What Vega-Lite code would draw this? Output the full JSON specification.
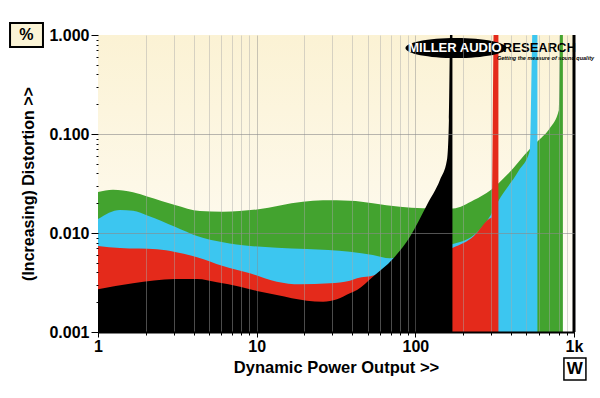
{
  "$schema": "https://vega.github.io/schema/vega-lite/v6.json",
  "width": 476,
  "height": 297,
  "autosize": "none",
  "padding": {"left": 98, "top": 35, "right": 26, "bottom": 66},
  "background": "#ffffff",
  "config": {
    "font": "Liberation Sans",
    "view": {"stroke": "#000000", "strokeWidth": 1}
  },
  "data": {"values": [{}]},
  "datasets": {
    "curves": [
      {"series": "green", "w": 1.0, "d": 0.0259},
      {"series": "green", "w": 1.243, "d": 0.0274},
      {"series": "green", "w": 1.662, "d": 0.0258},
      {"series": "green", "w": 2.066, "d": 0.0233},
      {"series": "green", "w": 3.056, "d": 0.0192},
      {"series": "green", "w": 4.39, "d": 0.0167},
      {"series": "green", "w": 6.13, "d": 0.0164},
      {"series": "green", "w": 10.04, "d": 0.0173},
      {"series": "green", "w": 19.57, "d": 0.0207},
      {"series": "green", "w": 26.2, "d": 0.0214},
      {"series": "green", "w": 38.7, "d": 0.0212},
      {"series": "green", "w": 54.0, "d": 0.02},
      {"series": "green", "w": 80.0, "d": 0.0184},
      {"series": "green", "w": 111.7, "d": 0.0178},
      {"series": "green", "w": 172.6, "d": 0.0177},
      {"series": "green", "w": 234, "d": 0.0215},
      {"series": "green", "w": 299, "d": 0.0272},
      {"series": "green", "w": 383, "d": 0.0394},
      {"series": "green", "w": 527, "d": 0.0705},
      {"series": "green", "w": 601, "d": 0.0869},
      {"series": "green", "w": 705, "d": 0.115},
      {"series": "green", "w": 803, "d": 0.175},
      {"series": "green", "w": 821, "d": 1.5},
      {"series": "green", "w": 851, "d": 1.5},
      {"series": "blue", "w": 1.0, "d": 0.01384},
      {"series": "blue", "w": 1.376, "d": 0.0171},
      {"series": "blue", "w": 1.662, "d": 0.0168},
      {"series": "blue", "w": 2.066, "d": 0.01496},
      {"series": "blue", "w": 3.056, "d": 0.01158},
      {"series": "blue", "w": 4.21, "d": 0.00933},
      {"series": "blue", "w": 6.13, "d": 0.00805},
      {"series": "blue", "w": 9.07, "d": 0.00739},
      {"series": "blue", "w": 13.4, "d": 0.00711},
      {"series": "blue", "w": 20.7, "d": 0.00689},
      {"series": "blue", "w": 38.7, "d": 0.00647},
      {"series": "blue", "w": 54.0, "d": 0.006},
      {"series": "blue", "w": 69.2, "d": 0.00555},
      {"series": "blue", "w": 107, "d": 0.0068},
      {"series": "blue", "w": 172.6, "d": 0.00774},
      {"series": "blue", "w": 234, "d": 0.00955},
      {"series": "blue", "w": 299, "d": 0.0152},
      {"series": "blue", "w": 331, "d": 0.0206},
      {"series": "blue", "w": 447, "d": 0.0423},
      {"series": "blue", "w": 527, "d": 0.068},
      {"series": "blue", "w": 550.8, "d": 1.5},
      {"series": "blue", "w": 588, "d": 1.5},
      {"series": "red", "w": 1.0, "d": 0.0074},
      {"series": "red", "w": 1.376, "d": 0.00705},
      {"series": "red", "w": 2.354, "d": 0.00685},
      {"series": "red", "w": 3.056, "d": 0.00643},
      {"series": "red", "w": 4.21, "d": 0.00569},
      {"series": "red", "w": 6.13, "d": 0.00464},
      {"series": "red", "w": 9.07, "d": 0.00392},
      {"series": "red", "w": 13.4, "d": 0.00322},
      {"series": "red", "w": 18.74, "d": 0.00303},
      {"series": "red", "w": 28.97, "d": 0.0031},
      {"series": "red", "w": 38.7, "d": 0.0033},
      {"series": "red", "w": 42.9, "d": 0.00349},
      {"series": "red", "w": 55.7, "d": 0.00376},
      {"series": "red", "w": 66.2, "d": 0.00457},
      {"series": "red", "w": 107, "d": 0.006},
      {"series": "red", "w": 172.6, "d": 0.00711},
      {"series": "red", "w": 234, "d": 0.00933},
      {"series": "red", "w": 291, "d": 0.01384},
      {"series": "red", "w": 303.9, "d": 0.0145},
      {"series": "red", "w": 312.8, "d": 1.5},
      {"series": "red", "w": 333.9, "d": 1.5},
      {"series": "black", "w": 1.0, "d": 0.0027},
      {"series": "black", "w": 1.662, "d": 0.0031},
      {"series": "black", "w": 3.056, "d": 0.00343},
      {"series": "black", "w": 4.21, "d": 0.00343},
      {"series": "black", "w": 5.62, "d": 0.00318},
      {"series": "black", "w": 7.85, "d": 0.00287},
      {"series": "black", "w": 10.04, "d": 0.00259},
      {"series": "black", "w": 13.4, "d": 0.00236},
      {"series": "black", "w": 20.7, "d": 0.00207},
      {"series": "black", "w": 26.2, "d": 0.00202},
      {"series": "black", "w": 32.1, "d": 0.00214},
      {"series": "black", "w": 38.7, "d": 0.00246},
      {"series": "black", "w": 42.9, "d": 0.00266},
      {"series": "black", "w": 54.0, "d": 0.00362},
      {"series": "black", "w": 72.3, "d": 0.0055},
      {"series": "black", "w": 92.5, "d": 0.00918},
      {"series": "black", "w": 118.3, "d": 0.0192},
      {"series": "black", "w": 142.9, "d": 0.0343},
      {"series": "black", "w": 158.2, "d": 0.0546},
      {"series": "black", "w": 162.8, "d": 0.138},
      {"series": "black", "w": 166.4, "d": 1.5},
      {"series": "black", "w": 171.3, "d": 1.5}
    ]
  },
  "layer": [
    {
      "mark": {"type": "rect", "fill": {"gradient": "linear", "x1": 0, "y1": 0, "x2": 0, "y2": 1, "stops": [{"offset": 0, "color": "#fbf2d4"}, {"offset": 1, "color": "#fffefa"}]}},
      "encoding": {
        "x": {"datum": 1, "type": "quantitative", "title": "Dynamic Power Output >>",
          "scale": {"type": "log", "domain": [1, 1000], "nice": false},
          "axis": {
            "values": [1,2,3,4,5,6,7,8,9,10,20,30,40,50,60,70,80,90,100,200,300,400,500,600,700,800,900,1000],
            "format": "~s",
            "labelExpr": "(datum.value == 1 || datum.value == 10 || datum.value == 100 || datum.value == 1000) ? datum.label : ''",
            "labelFontSize": 16,
            "labelFontWeight": "bold",
            "labelColor": "#000000",
            "labelPadding": 1,
            "labelOverlap": false,
            "labelFlush": false,
            "tickColor": "#000000",
            "tickSize": {"condition": {"test": "datum.value == 1 || datum.value == 10 || datum.value == 100 || datum.value == 1000", "value": 5}, "value": 3},
            "domainColor": "#000000",
            "domainWidth": 2,
            "grid": true,
            "gridColor": {"condition": {"test": "datum.value == 10 || datum.value == 100", "value": "#8a8a8a"}, "value": "#a8a8a8"},
            "gridOpacity": {"condition": {"test": "datum.value == 1 || datum.value == 1000", "value": 0}, "value": 0.45},
            "gridWidth": 1,
            "titleFontSize": 16.5,
            "titleFontWeight": "bold",
            "titleColor": "#000000",
            "titlePadding": 5,
            "zindex": 1
          }
        },
        "x2": {"datum": 1000},
        "y": {"datum": 0.001, "type": "quantitative", "title": "(Increasing) Distortion >>",
          "scale": {"type": "log", "domain": [0.001, 1], "nice": false},
          "axis": {
            "values": [0.001,0.002,0.003,0.004,0.005,0.006,0.007,0.008,0.009,0.01,0.02,0.03,0.04,0.05,0.06,0.07,0.08,0.09,0.1,0.2,0.3,0.4,0.5,0.6,0.7,0.8,0.9,1],
            "format": ".3f",
            "labelExpr": "abs(log(datum.value)/LN10 - round(log(datum.value)/LN10)) < 0.001 ? datum.label : ''",
            "labelFontSize": 16,
            "labelFontWeight": "bold",
            "labelColor": "#000000",
            "labelPadding": 2,
            "labelOverlap": false,
            "labelFlush": false,
            "tickColor": "#000000",
            "tickSize": {"condition": {"test": "abs(log(datum.value)/LN10 - round(log(datum.value)/LN10)) < 0.001", "value": 7}, "value": 2},
            "domain": false,
            "grid": true,
            "gridColor": "#8a8a8a",
            "gridOpacity": {"condition": {"test": "abs(log(datum.value)/LN10 - round(log(datum.value)/LN10)) < 0.001 && datum.value > 0.0015 && datum.value < 0.5", "value": 0.6}, "value": 0},
            "gridWidth": 1,
            "titleFontSize": 16,
            "titleFontWeight": "bold",
            "titleColor": "#000000",
            "titlePadding": 12,
            "zindex": 1
          }
        },
        "y2": {"datum": 1}
      }
    },
    {
      "data": {"name": "curves"},
      "transform": [{"filter": "datum.series == 'green'"}],
      "mark": {"type": "area", "color": "#43a32f", "interpolate": "monotone", "clip": true},
      "encoding": {
        "x": {"field": "w", "type": "quantitative", "title": "Dynamic Power Output >>"},
        "y": {"field": "d", "type": "quantitative", "title": "(Increasing) Distortion >>"},
        "y2": {"datum": 0.001}
      }
    },
    {
      "data": {"name": "curves"},
      "transform": [{"filter": "datum.series == 'blue'"}],
      "mark": {"type": "area", "color": "#3cc6f0", "interpolate": "monotone", "clip": true},
      "encoding": {
        "x": {"field": "w", "type": "quantitative", "title": "Dynamic Power Output >>"},
        "y": {"field": "d", "type": "quantitative", "title": "(Increasing) Distortion >>"},
        "y2": {"datum": 0.001}
      }
    },
    {
      "data": {"name": "curves"},
      "transform": [{"filter": "datum.series == 'red'"}],
      "mark": {"type": "area", "color": "#e42a1b", "interpolate": "monotone", "clip": true},
      "encoding": {
        "x": {"field": "w", "type": "quantitative", "title": "Dynamic Power Output >>"},
        "y": {"field": "d", "type": "quantitative", "title": "(Increasing) Distortion >>"},
        "y2": {"datum": 0.001}
      }
    },
    {
      "data": {"name": "curves"},
      "transform": [{"filter": "datum.series == 'black'"}],
      "mark": {"type": "area", "color": "#000000", "interpolate": "monotone", "clip": true},
      "encoding": {
        "x": {"field": "w", "type": "quantitative", "title": "Dynamic Power Output >>"},
        "y": {"field": "d", "type": "quantitative", "title": "(Increasing) Distortion >>"},
        "y2": {"datum": 0.001}
      }
    },
    {
      "mark": {"type": "rule", "color": "#000000", "strokeWidth": 3},
      "encoding": {"x": {"datum": 1000, "type": "quantitative", "title": "Dynamic Power Output >>"}}
    },
    {
      "mark": {"type": "rect", "fill": "#fbf4d6", "stroke": "#000000", "strokeWidth": 2},
      "encoding": {
        "x": {"datum": 0.279, "type": "quantitative", "title": "Dynamic Power Output >>"},
        "x2": {"datum": 0.45},
        "y": {"datum": 1.322, "type": "quantitative", "title": "(Increasing) Distortion >>"},
        "y2": {"datum": 0.756}
      }
    },
    {
      "mark": {"type": "text", "text": "%", "fontSize": 16, "fontWeight": "bold", "color": "#000000", "align": "center", "baseline": "middle"},
      "encoding": {
        "x": {"datum": 0.354, "type": "quantitative", "title": "Dynamic Power Output >>"},
        "y": {"datum": 1.0, "type": "quantitative", "title": "(Increasing) Distortion >>"}
      }
    },
    {
      "mark": {"type": "rect", "fill": "#ffffff", "stroke": "#000000", "strokeWidth": 1.5},
      "encoding": {
        "x": {"datum": 864, "type": "quantitative", "title": "Dynamic Power Output >>"},
        "x2": {"datum": 1189},
        "y": {"datum": 0.000546, "type": "quantitative", "title": "(Increasing) Distortion >>"},
        "y2": {"datum": 0.000327}
      }
    },
    {
      "mark": {"type": "text", "text": "W", "fontSize": 17, "fontWeight": "bold", "color": "#000000", "align": "center", "baseline": "middle"},
      "encoding": {
        "x": {"datum": 1013, "type": "quantitative", "title": "Dynamic Power Output >>"},
        "y": {"datum": 0.000423, "type": "quantitative", "title": "(Increasing) Distortion >>"}
      }
    },
    {
      "mark": {"type": "point", "shape": "M-1,0A1,0.2,0,1,1,1,0A1,0.2,0,1,1,-1,0Z", "size": 10200, "filled": true, "color": "#000000", "opacity": 1},
      "encoding": {
        "x": {"datum": 180.3, "type": "quantitative", "title": "Dynamic Power Output >>"},
        "y": {"datum": 0.739, "type": "quantitative", "title": "(Increasing) Distortion >>"}
      }
    },
    {
      "mark": {"type": "text", "text": "MILLER AUDIO", "fontSize": 13, "fontWeight": "bold", "color": "#ffffff", "align": "center", "baseline": "middle"},
      "encoding": {
        "x": {"datum": 177.7, "type": "quantitative", "title": "Dynamic Power Output >>"},
        "y": {"datum": 0.745, "type": "quantitative", "title": "(Increasing) Distortion >>"}
      }
    },
    {
      "mark": {"type": "text", "text": "RESEARCH", "fontSize": 13, "fontWeight": "bold", "color": "#000000", "align": "left", "baseline": "middle"},
      "encoding": {
        "x": {"datum": 356.5, "type": "quantitative", "title": "Dynamic Power Output >>"},
        "y": {"datum": 0.745, "type": "quantitative", "title": "(Increasing) Distortion >>"}
      }
    },
    {
      "mark": {"type": "text", "text": "Getting the measure of sound quality", "fontSize": 5.5, "fontWeight": "bold", "fontStyle": "italic", "color": "#000000", "align": "left", "baseline": "middle"},
      "encoding": {
        "x": {"datum": 326.6, "type": "quantitative", "title": "Dynamic Power Output >>"},
        "y": {"datum": 0.586, "type": "quantitative", "title": "(Increasing) Distortion >>"}
      }
    }
  ]
}
